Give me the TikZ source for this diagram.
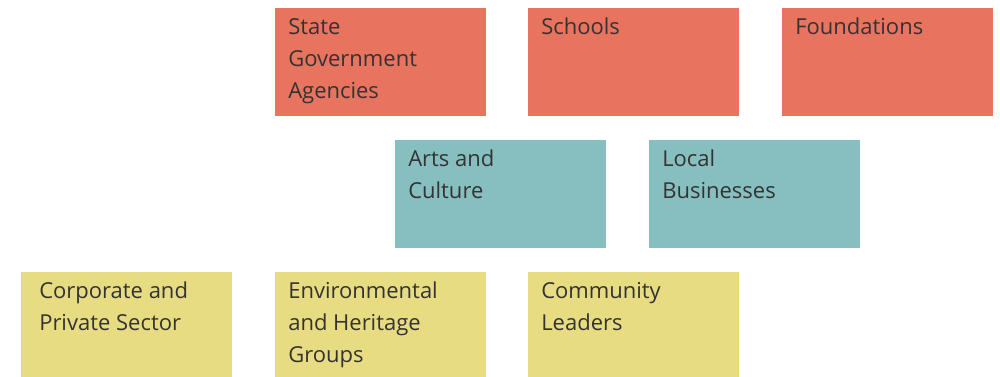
\documentclass[tikz,border=0pt]{standalone}
\usepackage{fontspec}
\setmainfont{Open Sans}
\usetikzlibrary{positioning}

\definecolor{govred}{HTML}{E8745F}
\definecolor{midteal}{HTML}{87BFC1}
\definecolor{baseyellow}{HTML}{E8DC82}
\definecolor{inkgray}{HTML}{333333}

\begin{document}
\begin{tikzpicture}[
    x=0.75pt, y=-0.75pt,
    card/.style={rectangle, anchor=north west, inner sep=0pt, minimum width=158.25pt, minimum height=81pt},
    cardtext/.style={anchor=north west, inner sep=0pt, align=left, text=inkgray,
        font=\fontsize{16.5}{24}\selectfont, xshift=9.75pt, yshift=-7.5pt}
]
    \useasboundingbox (0,0) rectangle (1000,377);

    % Top row
    \foreach \name/\x/\txt in {stategov/275/{State\\Government\\Agencies}, schools/528/{Schools}, foundations/782/{Foundations}} {
        \node[card, fill=govred] (\name) at (\x,8) {};
        \node[cardtext] (\name-label) at (\name.north west) {\txt};
    }

    % Middle row
    \foreach \name/\x/\txt in {arts/395/{Arts and\\Culture}, business/649/{Local\\Businesses}} {
        \node[card, fill=midteal] (\name) at (\x,140) {};
        \node[cardtext] (\name-label) at (\name.north west) {\txt};
    }

    % Bottom row (first card has a wider text indent)
    \foreach \name/\x/\dx/\txt in {corporate/21/3.75pt/{Corporate and\\Private Sector}, heritage/275/0pt/{Environmental\\and Heritage\\Groups}, leaders/528/0pt/{Community\\Leaders}} {
        \node[card, fill=baseyellow, minimum height=78.75pt] (\name) at (\x,272) {};
        \node[cardtext, xshift=\dx] (\name-label) at (\name.north west) {\txt};
    }
\end{tikzpicture}
\end{document}
